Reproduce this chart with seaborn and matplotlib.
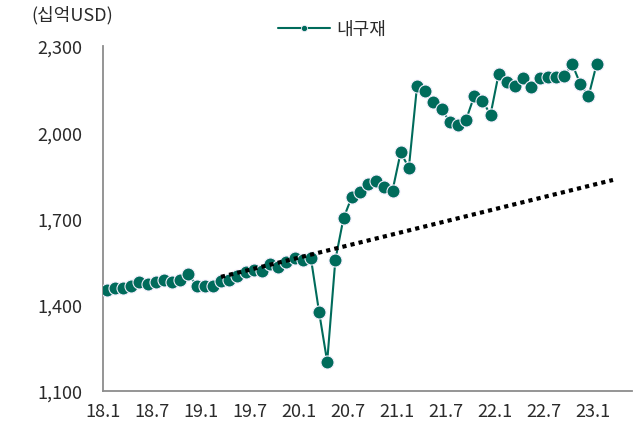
import numpy as np
import pandas as pd
import matplotlib
matplotlib.use("Agg")
import matplotlib.pyplot as plt
from matplotlib.lines import Line2D
import seaborn as sns

# Monthly durable goods values, 2018.1 - 2023.1 (billion USD)
durables = [
    1452, 1458, 1458, 1466, 1478, 1472, 1478, 1486, 1478, 1486, 1507, 1466,
    1464, 1464, 1484, 1487, 1501, 1513, 1521, 1518, 1542, 1530, 1548, 1563,
    1557, 1563, 1376, 1202, 1556, 1701, 1774, 1791, 1820, 1829, 1809, 1797,
    1930, 1876, 2160, 2142, 2104, 2081, 2037, 2026, 2043, 2125, 2110, 2061,
    2203, 2174, 2160, 2188, 2156, 2188, 2191, 2193, 2195, 2237, 2168, 2125,
    2237,
]
# Pre-pandemic trend line: month index and value at its two ends
trend_idx = [14, 62]
trend_vals = [1497, 1834]

tick_labels = ["18.1", "18.7", "19.1", "19.7", "20.1", "20.7",
               "21.1", "21.7", "22.1", "22.7", "23.1"]
y_ticks = [1100, 1400, 1700, 2000, 2300]
series_name = "내구재"
unit_label = "(십억USD)"

TEAL = "#006B5B"
TEXT = "#2a2a2a"
OFFSET = 0.45  # points sit slightly right of the month tick

sns.set_theme(style="white")
plt.rcParams["font.family"] = ["Noto Sans CJK KR", "DejaVu Sans"]

fig = plt.figure(figsize=(6.36, 4.27), dpi=100)
ax = fig.add_axes([0.162, 0.082, 0.832, 0.808])

df = pd.DataFrame({"m": np.arange(len(durables)) + OFFSET, "v": durables})
sns.lineplot(data=df, x="m", y="v", ax=ax, color=TEAL, linewidth=1.5,
             marker="o", markersize=9.4, markerfacecolor=TEAL,
             markeredgecolor="#f3eefc", markeredgewidth=0.8, zorder=3)

tdf = pd.DataFrame({"m": np.array(trend_idx) + OFFSET, "v": trend_vals})
sns.lineplot(data=tdf, x="m", y="v", ax=ax, color="black", linewidth=3,
             linestyle=(0, (1, 1)), dash_capstyle="butt", zorder=4)

ax.set_xlim(0, 64.8)
ax.set_ylim(1100, 2300)
ax.set_xticks(np.arange(0, 61, 6))
ax.set_xticklabels(tick_labels)
ax.set_yticks(y_ticks)
ax.set_yticklabels([f"{v:,}" for v in y_ticks])
ax.set_xlabel("")
ax.set_ylabel("")

for side in ("top", "right"):
    ax.spines[side].set_visible(False)
for side in ("left", "bottom"):
    ax.spines[side].set_color("#8c8c8c")
    ax.spines[side].set_linewidth(1.3)

ax.tick_params(axis="both", which="both", direction="out", length=5,
               width=1.3, color="#8c8c8c", labelsize=13, labelcolor=TEXT)
ax.tick_params(axis="y", pad=10)
ax.tick_params(axis="x", pad=3)

fig.text(0.05, 0.965, unit_label, fontsize=13, color=TEXT,
         ha="left", va="center")

handle = Line2D([], [], color=TEAL, linewidth=1.5, marker="o", markersize=4.5,
                markerfacecolor=TEAL, markeredgecolor="#f3eefc",
                markeredgewidth=0.6)
fig.legend([handle], [series_name], loc="center",
           bbox_to_anchor=(0.522, 0.93), frameon=False, fontsize=13,
           handlelength=2.9, handletextpad=0.35, labelcolor=TEXT)

fig.savefig("out.png", dpi=100)
